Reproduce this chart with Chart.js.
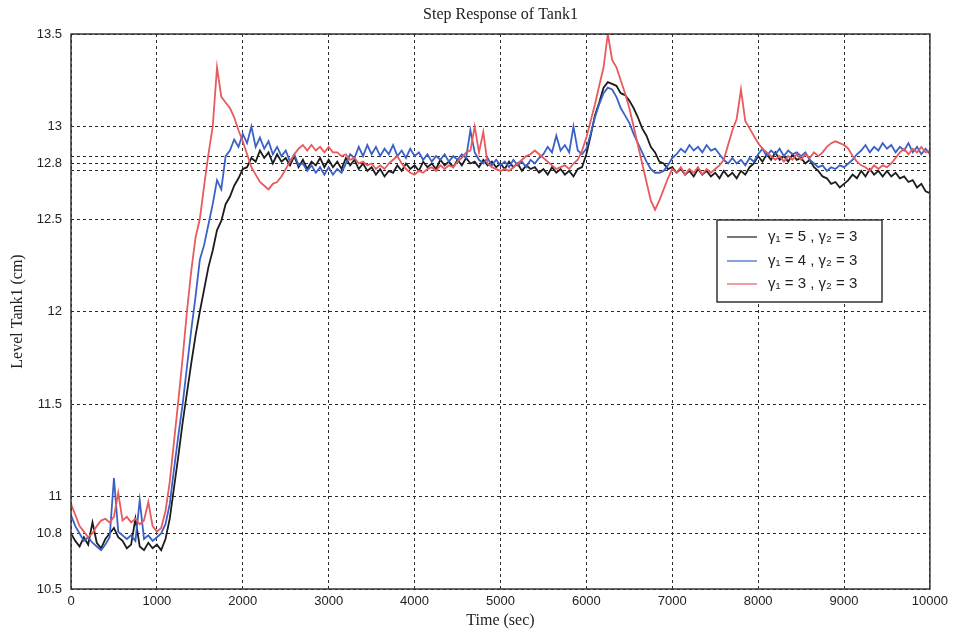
<!DOCTYPE html>
<html>
<head>
<meta charset="utf-8">
<title>Step Response of Tank1</title>
<script src="https://cdn.jsdelivr.net/npm/chart.js@4.4.1/dist/chart.umd.min.js"></script>
<style>
  html, body { margin: 0; padding: 0; background: #fff; }
  #tankChart { display: block; }
</style>
</head>
<body>
<canvas id="tankChart" width="953" height="634"></canvas>
<script>
// level logged every 50 s, 0 .. 10000 s
const sampleStep = 50;

// gamma1 = 5, gamma2 = 3
const levelG5 = [
  10.80, 10.76, 10.73, 10.78, 10.74, 10.86, 10.75, 10.72, 10.77, 10.80,
  10.83, 10.78, 10.76, 10.72, 10.74, 10.88, 10.73, 10.71, 10.75, 10.72,
  10.74, 10.71, 10.77, 10.88, 11.05, 11.22, 11.40, 11.56, 11.72, 11.87,
  12.00, 12.12, 12.24, 12.33, 12.44, 12.49, 12.58, 12.62, 12.68, 12.72,
  12.77, 12.78, 12.83, 12.81, 12.87, 12.83, 12.86, 12.80, 12.85, 12.81,
  12.83, 12.79, 12.84, 12.78, 12.82, 12.77, 12.81, 12.79, 12.83, 12.78,
  12.82, 12.78, 12.81, 12.77, 12.83, 12.79, 12.82, 12.77, 12.80, 12.76,
  12.78, 12.74, 12.77, 12.73, 12.76, 12.75, 12.79, 12.76, 12.80, 12.77,
  12.79, 12.76, 12.81, 12.78, 12.80, 12.77, 12.82, 12.79, 12.81, 12.78,
  12.82, 12.79, 12.83, 12.80, 12.81, 12.78, 12.82, 12.79, 12.81, 12.78,
  12.80, 12.77, 12.81, 12.78, 12.80, 12.76, 12.79, 12.77, 12.78, 12.75,
  12.77, 12.74, 12.78, 12.75, 12.77, 12.74, 12.76, 12.73, 12.77, 12.78,
  12.85, 12.95, 13.06, 13.13, 13.21, 13.24, 13.23, 13.22, 13.18, 13.17,
  13.14, 13.10, 13.05, 12.99, 12.95, 12.89, 12.86, 12.81, 12.80, 12.77,
  12.78, 12.75, 12.77, 12.74, 12.76, 12.73, 12.77, 12.74, 12.76, 12.73,
  12.75, 12.72, 12.76, 12.73, 12.75, 12.72, 12.76, 12.74, 12.78, 12.80,
  12.84, 12.81, 12.85, 12.82, 12.86, 12.82, 12.84, 12.81, 12.85, 12.82,
  12.83, 12.80, 12.82, 12.78, 12.76, 12.73, 12.72, 12.69, 12.70, 12.67,
  12.69, 12.71, 12.74, 12.72, 12.76, 12.73, 12.77, 12.74, 12.76, 12.73,
  12.76, 12.73, 12.75, 12.72, 12.73, 12.70, 12.71, 12.67, 12.69, 12.65,
  12.64
];

// gamma1 = 4, gamma2 = 3
const levelG4 = [
  10.90, 10.84, 10.80, 10.76, 10.78, 10.75, 10.73, 10.71, 10.74, 10.78,
  11.10, 10.81, 10.79, 10.77, 10.79, 10.76, 10.98, 10.77, 10.79, 10.76,
  10.78, 10.80, 10.85, 10.96, 11.15, 11.33, 11.50, 11.70, 11.90, 12.08,
  12.28, 12.36, 12.47, 12.58, 12.71, 12.66, 12.84, 12.87, 12.93, 12.89,
  12.96, 12.91, 13.00, 12.89, 12.94, 12.88, 12.92, 12.85, 12.89, 12.84,
  12.87, 12.81, 12.85, 12.79, 12.80, 12.76, 12.79, 12.75, 12.78, 12.74,
  12.78, 12.74, 12.77, 12.75, 12.80, 12.85, 12.83, 12.89, 12.84, 12.90,
  12.85, 12.89, 12.84, 12.88, 12.85, 12.90, 12.84, 12.87, 12.83, 12.88,
  12.84, 12.86, 12.82, 12.85, 12.81, 12.84, 12.82, 12.85, 12.81, 12.84,
  12.82, 12.85, 12.83, 12.98, 12.86, 12.82, 12.80, 12.83, 12.79, 12.82,
  12.79, 12.81, 12.78, 12.82, 12.79, 12.81, 12.78, 12.82, 12.80, 12.83,
  12.85, 12.89, 12.86, 12.95, 12.87, 12.90, 12.86, 13.00, 12.87, 12.85,
  12.88, 12.96, 13.05, 13.12, 13.18, 13.21, 13.20, 13.16, 13.10, 13.06,
  13.02, 12.96, 12.91, 12.86, 12.81, 12.77, 12.75, 12.75, 12.76, 12.79,
  12.83, 12.85, 12.88, 12.86, 12.90, 12.87, 12.89, 12.86, 12.90, 12.87,
  12.88, 12.85, 12.82, 12.80, 12.83, 12.80, 12.82, 12.79, 12.83, 12.81,
  12.85, 12.88, 12.84, 12.87, 12.85, 12.88, 12.84, 12.87, 12.85, 12.86,
  12.84, 12.86, 12.82, 12.80, 12.78, 12.79, 12.76, 12.78, 12.77, 12.79,
  12.78, 12.80, 12.82, 12.85, 12.87, 12.90, 12.86, 12.89, 12.87, 12.91,
  12.88, 12.90, 12.86, 12.89, 12.87, 12.91, 12.86, 12.89, 12.85, 12.88,
  12.85
];

// gamma1 = 3, gamma2 = 3
const levelG3 = [
  10.96, 10.90, 10.84, 10.81, 10.78, 10.80, 10.84, 10.87, 10.88, 10.86,
  10.89, 11.02, 10.87, 10.89, 10.86, 10.88, 10.85, 10.87, 10.97, 10.84,
  10.81, 10.83, 10.92, 11.08, 11.30, 11.52, 11.75, 12.00, 12.22, 12.40,
  12.50, 12.68, 12.85, 13.00, 13.32, 13.16, 13.13, 13.10, 13.05, 12.98,
  12.92, 12.85, 12.78, 12.74, 12.70, 12.68, 12.66, 12.69, 12.70, 12.73,
  12.77, 12.81, 12.85, 12.88, 12.90, 12.87, 12.90, 12.87, 12.89, 12.86,
  12.89, 12.86, 12.86, 12.84, 12.85, 12.82, 12.83, 12.80, 12.81, 12.79,
  12.80, 12.77, 12.79, 12.77, 12.80, 12.82, 12.84, 12.80, 12.77, 12.75,
  12.74, 12.76, 12.75, 12.77, 12.78, 12.76, 12.79, 12.77, 12.79, 12.78,
  12.81, 12.83, 12.86, 12.87, 13.00, 12.86, 12.97, 12.80, 12.78, 12.77,
  12.76, 12.77, 12.76, 12.78, 12.80, 12.82, 12.84, 12.85, 12.87, 12.85,
  12.83, 12.81, 12.79, 12.77, 12.78, 12.79, 12.77, 12.80, 12.82, 12.87,
  12.94, 13.03, 13.12, 13.22, 13.32, 13.50, 13.36, 13.32, 13.25, 13.18,
  13.10, 13.00, 12.90, 12.80, 12.70, 12.60, 12.55, 12.60, 12.66, 12.72,
  12.77, 12.75, 12.78, 12.74, 12.77, 12.75, 12.78, 12.74, 12.77, 12.75,
  12.77, 12.79, 12.82, 12.90, 12.98, 13.04, 13.20, 13.03, 12.99, 12.95,
  12.91, 12.88, 12.86, 12.84, 12.82, 12.84, 12.81, 12.84, 12.82, 12.85,
  12.82, 12.85, 12.83, 12.86, 12.84, 12.86, 12.89, 12.91, 12.92, 12.91,
  12.90, 12.88, 12.84, 12.81, 12.79, 12.78, 12.76, 12.79, 12.77, 12.79,
  12.78, 12.80, 12.83, 12.86, 12.88, 12.85, 12.88, 12.86, 12.89, 12.86,
  12.87
];

const seriesLabels = ['γ₁ = 5 , γ₂ = 3', 'γ₁ = 4 , γ₂ = 3', 'γ₁ = 3 , γ₂ = 3'];
const seriesColors = ['#1c1c1c', '#3a62c6', '#e85a5e'];

// y grid: the 12.76 / 12.84 band lines carry no label
const yTickValues = [10.5, 10.8, 11, 11.5, 12, 12.5, 12.76, 12.8, 12.84, 13, 13.5];
const yTickText = ['10.5', '10.8', '11', '11.5', '12', '12.5', '', '12.8', '', '13', '13.5'];

const times = levelG5.map((v, i) => i * sampleStep);
const toPoints = arr => arr.map((v, i) => ({ x: times[i], y: v }));

const tickFont = { family: 'Liberation Sans', size: 13 };
const serifFont = 'Liberation Serif';

// white page + closed frame round the plot
const frame = {
  id: 'frame',
  beforeDraw(chart) {
    const ctx = chart.ctx;
    ctx.save();
    ctx.fillStyle = '#fff';
    ctx.fillRect(0, 0, chart.width, chart.height);
    ctx.restore();
  },
  afterDatasetsDraw(chart) {
    const { ctx, chartArea: a } = chart;
    ctx.save();
    ctx.strokeStyle = '#333';
    ctx.lineWidth = 1.5;
    ctx.strokeRect(a.left, a.top, a.right - a.left, a.bottom - a.top);
    ctx.restore();
  }
};

// boxed legend inside the plot, right side
const boxLegend = {
  id: 'boxLegend',
  afterDraw(chart, args, opts) {
    const ctx = chart.ctx;
    const { x, y, w, h, rowY, font } = opts;
    ctx.save();
    ctx.fillStyle = '#fff';
    ctx.fillRect(x, y, w, h);
    ctx.strokeStyle = '#333';
    ctx.lineWidth = 1.5;
    ctx.strokeRect(x, y, w, h);
    ctx.font = font;
    ctx.textBaseline = 'middle';
    chart.data.datasets.forEach((ds, i) => {
      const ry = y + rowY[i];
      ctx.strokeStyle = ds.borderColor;
      ctx.lineWidth = 1.2;
      ctx.beginPath();
      ctx.moveTo(x + 10, ry);
      ctx.lineTo(x + 40, ry);
      ctx.stroke();
      ctx.fillStyle = '#222';
      ctx.fillText(ds.label, x + 51, ry);
    });
    ctx.restore();
  }
};

const mk = (i, data, order) => ({
  label: seriesLabels[i],
  data: toPoints(data),
  borderColor: seriesColors[i],
  borderWidth: 1.8,
  pointRadius: 0,
  tension: 0,
  order: order
});

new Chart(document.getElementById('tankChart'), {
  type: 'line',
  data: {
    datasets: [
      mk(0, levelG5, 3),
      mk(1, levelG4, 2),
      mk(2, levelG3, 1)
    ]
  },
  options: {
    responsive: false,
    devicePixelRatio: 1,
    animation: false,
    layout: { padding: { left: 0, right: 22, top: 0, bottom: 0 } },
    plugins: {
      legend: { display: false },
      tooltip: { enabled: false },
      title: {
        display: true,
        text: 'Step Response of Tank1',
        fullSize: false,
        color: '#222',
        font: { family: serifFont, size: 16, weight: 'normal', lineHeight: 1.2 },
        padding: { top: 5, bottom: 9.8 }
      },
      boxLegend: {
        x: 717, y: 220, w: 165, h: 82,
        rowY: [17, 41, 64],
        font: '15px "Liberation Sans", Arial, sans-serif'
      }
    },
    scales: {
      x: {
        type: 'linear',
        min: 0,
        max: 10000,
        ticks: {
          stepSize: 1000,
          color: '#222',
          padding: 5,
          maxRotation: 0,
          font: tickFont,
          callback: v => String(v)
        },
        grid: { color: '#2a2a2a', lineWidth: 1, drawTicks: false },
        border: { display: false, dash: [3, 3] },
        title: {
          display: true,
          text: 'Time (sec)',
          color: '#222',
          font: { family: serifFont, size: 16, lineHeight: 1.2 },
          padding: { top: 0, bottom: 4 }
        },
        afterFit(scale) { scale.height = 45; }
      },
      y: {
        min: 10.5,
        max: 13.5,
        afterBuildTicks(scale) {
          scale.ticks = yTickValues.map(v => ({ value: v }));
        },
        ticks: {
          color: '#222',
          padding: 9,
          font: tickFont,
          callback: (v, i) => yTickText[i]
        },
        grid: { color: '#2a2a2a', lineWidth: 1, drawTicks: false },
        border: { display: false, dash: [3, 3] },
        title: {
          display: true,
          text: 'Level Tank1 (cm)',
          color: '#222',
          font: { family: serifFont, size: 16, lineHeight: 1.2 },
          padding: { top: 8, bottom: 0 }
        },
        afterFit(scale) { scale.width = 71; }
      }
    }
  },
  plugins: [frame, boxLegend]
});
</script>
</body>
</html>
